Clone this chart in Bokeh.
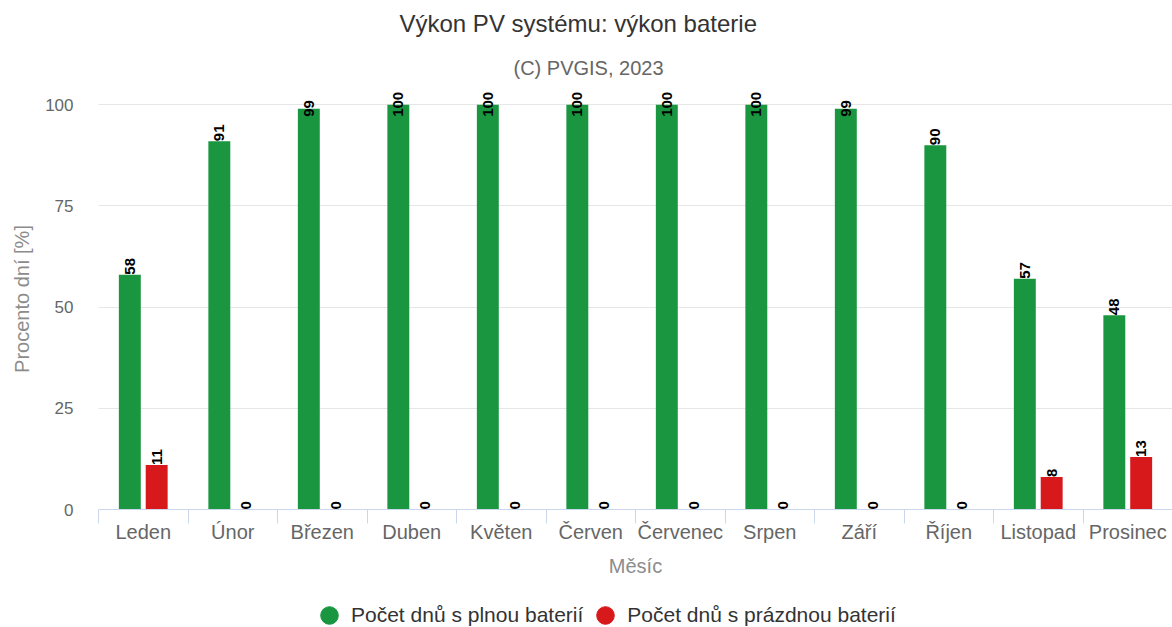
import numpy as np
from bokeh.plotting import figure
from bokeh.layouts import column
from bokeh.models import Range1d, FixedTicker, Title, Legend, LegendItem, ColumnDataSource
from bokeh.embed import file_html
from bokeh.resources import INLINE
from bokeh.core.properties import value

# ---- data ----
months = ["Leden", "Únor", "Březen", "Duben", "Květen", "Červen",
          "Červenec", "Srpen", "Září", "Říjen", "Listopad", "Prosinec"]
full_battery = [58, 91, 99, 100, 100, 100, 100, 100, 99, 90, 57, 48]
empty_battery = [11, 0, 0, 0, 0, 0, 0, 0, 0, 0, 8, 13]
y_ticks = [0, 25, 50, 75, 100]

title_text = "Výkon PV systému: výkon baterie"
subtitle_text = "(C) PVGIS, 2023"
x_title = "Měsíc"
y_title = "Procento dní [%]"
series_names = ["Počet dnů s plnou baterií", "Počet dnů s prázdnou baterií"]
colors = ["#1a9641", "#d7191c"]

FONT = "Liberation Sans"

n = len(months)
centers = np.arange(n) + 0.5
offset = 0.15
bar_w = 0.245
y_end = 104
label_cap = y_end - 7  # keep rotated labels inside the plot area (like the original)

p = figure(width=1172, height=579, x_range=Range1d(0, n), y_range=Range1d(0, y_end),
           output_backend="svg", toolbar_location=None, title=None,
           min_border_left=98, min_border_right=0, min_border_top=0, min_border_bottom=0)
p.outline_line_color = None
p.background_fill_color = "white"
p.border_fill_color = "white"

# titles (first added is closest to the plot)
p.add_layout(Title(text=subtitle_text, align="left", offset=415, text_font_size="20px",
                   text_color="#666666", text_font=FONT, text_font_style="normal",
                   standoff=20), "above")
p.add_layout(Title(text=title_text, align="left", offset=301, text_font_size="24px",
                   text_color="#333333", text_font=FONT, text_font_style="normal",
                   standoff=15), "above")

# x axis
xa = p.xaxis[0]
xa.ticker = FixedTicker(ticks=[float(c) for c in centers], minor_ticks=list(range(n + 1)))
xa.major_label_overrides = {float(c): m for c, m in zip(centers, months)}
xa.major_tick_line_color = None
xa.major_tick_out = 0
xa.major_tick_in = 0
xa.minor_tick_line_color = "#ccd6eb"
xa.minor_tick_out = 14
xa.minor_tick_in = 0
xa.axis_line_color = "#ccd6eb"
xa.major_label_standoff = -3
xa.major_label_text_font = FONT
xa.major_label_text_font_size = "20px"
xa.major_label_text_color = "#666666"
xa.axis_label = x_title
xa.axis_label_text_font = FONT
xa.axis_label_text_font_size = "20px"
xa.axis_label_text_font_style = "normal"
xa.axis_label_text_color = "#8c8c8c"
xa.axis_label_standoff = 9

# y axis
ya = p.yaxis[0]
yticker = FixedTicker(ticks=y_ticks, minor_ticks=[])
ya.ticker = yticker
ya.axis_line_color = None
ya.major_tick_line_color = None
ya.minor_tick_line_color = None
ya.major_tick_out = 0
ya.major_label_standoff = 25
ya.major_label_text_font = FONT
ya.major_label_text_font_size = "17px"
ya.major_label_text_color = "#666666"
ya.axis_label = y_title
ya.axis_label_text_font = FONT
ya.axis_label_text_font_size = "20px"
ya.axis_label_text_font_style = "normal"
ya.axis_label_text_color = "#8c8c8c"
ya.axis_label_standoff = 9

p.xgrid.visible = False
p.ygrid.ticker = yticker
p.ygrid.grid_line_color = "#e6e6e6"
p.ygrid.grid_line_width = 1

src = ColumnDataSource(dict(
    xg=centers - offset, xr=centers + offset,
    full=full_battery, empty=empty_battery,
    full_pos=np.minimum(full_battery, label_cap),
    empty_pos=np.minimum(empty_battery, label_cap),
    full_lbl=[str(v) for v in full_battery],
    empty_lbl=[str(v) for v in empty_battery],
))

p.vbar(x="xg", top="full", bottom=0, width=bar_w, source=src,
       fill_color=colors[0], line_color=None)
p.vbar(x="xr", top="empty", bottom=0, width=bar_w, source=src,
       fill_color=colors[1], line_color=None)

for xcol, ycol, tcol in (("xg", "full_pos", "full_lbl"), ("xr", "empty_pos", "empty_lbl")):
    p.text(x=xcol, y=ycol, text=tcol, source=src, angle=np.pi / 2,
           text_align="left", text_baseline="middle",
           text_font=value(FONT), text_font_size="15px", text_font_style="bold",
           text_color="#000000")

# legend in a separate strip below the chart; its proxy markers fall outside
# this strip's ranges, so only the legend glyphs are visible
lf = figure(width=1172, height=48, x_range=Range1d(0, 1), y_range=Range1d(0, 1),
            output_backend="svg", toolbar_location=None, title=None,
            x_axis_location=None, y_axis_location=None,
            min_border_left=0, min_border_right=0, min_border_top=0, min_border_bottom=0)
lf.outline_line_color = None
lf.grid.visible = False
r1 = lf.scatter(x="xg", y="full", source=src, marker="circle", color=colors[0])
r2 = lf.scatter(x="xr", y="full", source=src, marker="circle", color=colors[1])
legend = Legend(items=[LegendItem(label=series_names[0], renderers=[r1], index=0),
                       LegendItem(label=series_names[1], renderers=[r2], index=0)],
                orientation="horizontal", location=(209, -10),
                glyph_width=44, glyph_height=44, label_standoff=0, spacing=0,
                padding=0, margin=0, label_text_font=FONT, label_text_font_size="21px",
                label_text_color="#333333", border_line_alpha=0, background_fill_alpha=0)
lf.add_layout(legend)

layout = column(p, lf, spacing=0)
open("out.html", "w").write(file_html(layout, INLINE))
